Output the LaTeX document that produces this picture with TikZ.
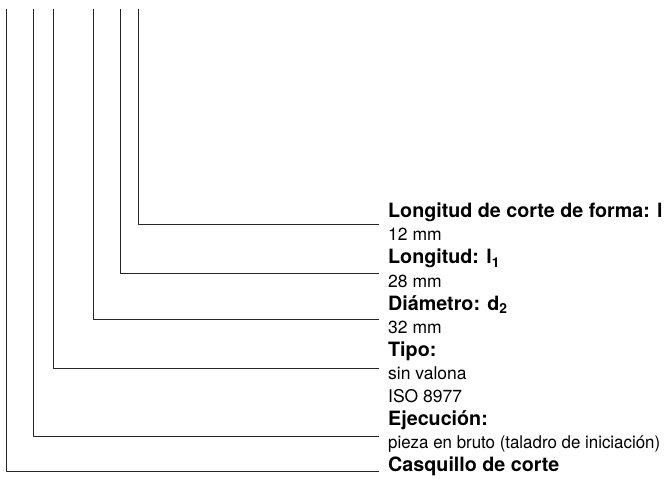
\documentclass[tikz,border=0pt]{standalone}
\usepackage{fontspec}
\setmainfont{TeX Gyre Heros}
\usetikzlibrary{arrows}

\begin{document}
\begin{tikzpicture}[x=1pt,y=-1pt,join=round,
        hd/.style={anchor=base west,inner sep=0pt,font=\fontsize{19.7}{23}\selectfont\bfseries},
        vl/.style={anchor=base west,inner sep=0pt,font=\fontsize{17.5}{23}\selectfont},
        lead/.style={draw=black!85,line width=.8pt}]% six callout lines
        \useasboundingbox (0,0) rectangle (665,479);
        \node[hd] (lform) at (388,217.7) {Longitud de corte de forma: l};
        \node[vl] (lformv) at (388,240.8) {12 mm};
        \node[hd] (long) at (388,263.9) {Longitud: l\textsubscript{1}};
        \node[vl] (longv) at (388,287) {28 mm};
        \node[hd] (diam) at (388,310.1) {Diámetro: d\textsubscript{2}};
        \node[vl] (diamv) at (388,333.2) {32 mm};
        \node[hd] (tipo) at (388,356.3) {Tipo:};
        \node[vl] (tipov) at (388,379.4) {sin valona};
        \node[vl] (tipon) at (388,402.5) {ISO 8977};
        \node[hd] (ejec) at (388,425.6) {Ejecución:};
        \node[vl] (ejecv) at (388,448.7) {\resizebox{272pt}{\height}{pieza en bruto (taladro de iniciación)}};
        \node[hd] (casq) at (388,471.8) {Casquillo de corte};
        \coordinate (t1) at (138.3,9.3);
        \coordinate (t2) at (120.3,9.3);
        \coordinate (t3) at (93.7,9.3);
        \coordinate (t4) at (53.7,9.3);
        \coordinate (t5) at (33.7,9.3);
        \coordinate (t6) at (6,9.3);
        \coordinate (e1) at (379,224.7);
        \coordinate (e2) at (379,273);
        \coordinate (e3) at (379,319.3);
        \coordinate (e4) at (379,368.5);
        \coordinate (e5) at (379,436);
        \coordinate (e6) at (379,471);
        \draw[lead] (t1) |- (e1);
        \draw[lead] (t2) |- (e2);
        \draw[lead] (t3) |- (e3);
        \draw[lead] (t4) |- (e4);
        \draw[lead] (t5) |- (e5);
        \draw[lead] (t6) |- (e6);
\end{tikzpicture}
\end{document}
